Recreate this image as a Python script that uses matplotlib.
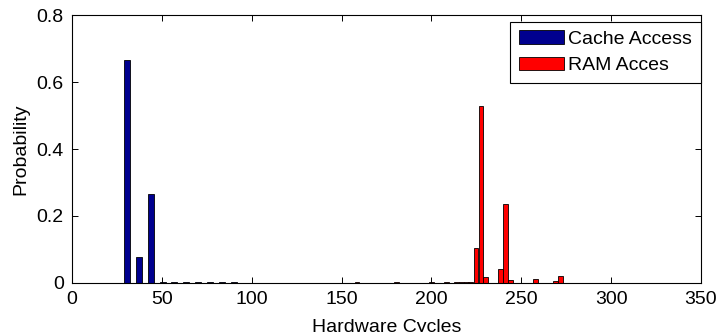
import numpy as np
import matplotlib
matplotlib.use("Agg")
import matplotlib.pyplot as plt

plt.rcParams["font.family"] = ["Liberation Sans", "DejaVu Sans"]

# Cache access histogram (bin centres in cycles, probability)
cache_cycles = [30.6, 37.2, 43.8, 50.4, 57.0, 63.6, 70.2, 76.8, 83.4, 90.0]
cache_prob = [0.665, 0.078, 0.265, 0.002, 0.002, 0.002, 0.002, 0.002, 0.002, 0.002]

# RAM access histogram
ram_cycles = [158.6, 180.6, 199.9, 208.2, 213.8, 216.5, 219.3, 222.0,
              224.8, 227.6, 230.3, 238.6, 241.4, 244.1, 257.9, 269.0, 271.7]
ram_prob = [0.002, 0.002, 0.002, 0.002, 0.002, 0.002, 0.002, 0.002,
            0.104, 0.528, 0.019, 0.042, 0.235, 0.009, 0.013, 0.006, 0.021]

legend_labels = ["Cache Access", "RAM Acces"]
fs = 14

fig = plt.figure(figsize=(7.22, 3.32), dpi=100)
ax = fig.add_axes([0.0997, 0.1476, 0.8712, 0.8072])

ax.bar(cache_cycles, cache_prob, width=3.3, color=(0, 0, 0.5625),
       edgecolor="black", linewidth=0.6, label=legend_labels[0])
ax.bar(ram_cycles, ram_prob, width=2.76, color=(1, 0, 0),
       edgecolor="black", linewidth=0.6, label=legend_labels[1])

ax.set_xlim(0, 350)
ax.set_ylim(0, 0.8)
ax.set_xticks(np.arange(0, 351, 50))
ax.set_yticks([0, 0.2, 0.4, 0.6, 0.8])
ax.set_yticklabels(["0", "0.2", "0.4", "0.6", "0.8"])
ax.tick_params(direction="in", length=4, width=0.7, top=True, right=True,
               labelsize=fs, pad=6)
for s in ax.spines.values():
    s.set_linewidth(0.8)

ax.set_ylabel("Probability", fontsize=fs, labelpad=5)
ax.set_xlabel("Hardware Cycles", fontsize=fs, labelpad=8)

leg = ax.legend(loc="upper right", bbox_to_anchor=(1.0, 0.975), fontsize=fs,
                fancybox=False, edgecolor="black", framealpha=1,
                borderaxespad=0.0, handlelength=2.3, handleheight=0.7,
                handletextpad=0.25, labelspacing=0.45, borderpad=0.45)
leg.get_frame().set_linewidth(0.8)

fig.savefig("out.png", dpi=100)
